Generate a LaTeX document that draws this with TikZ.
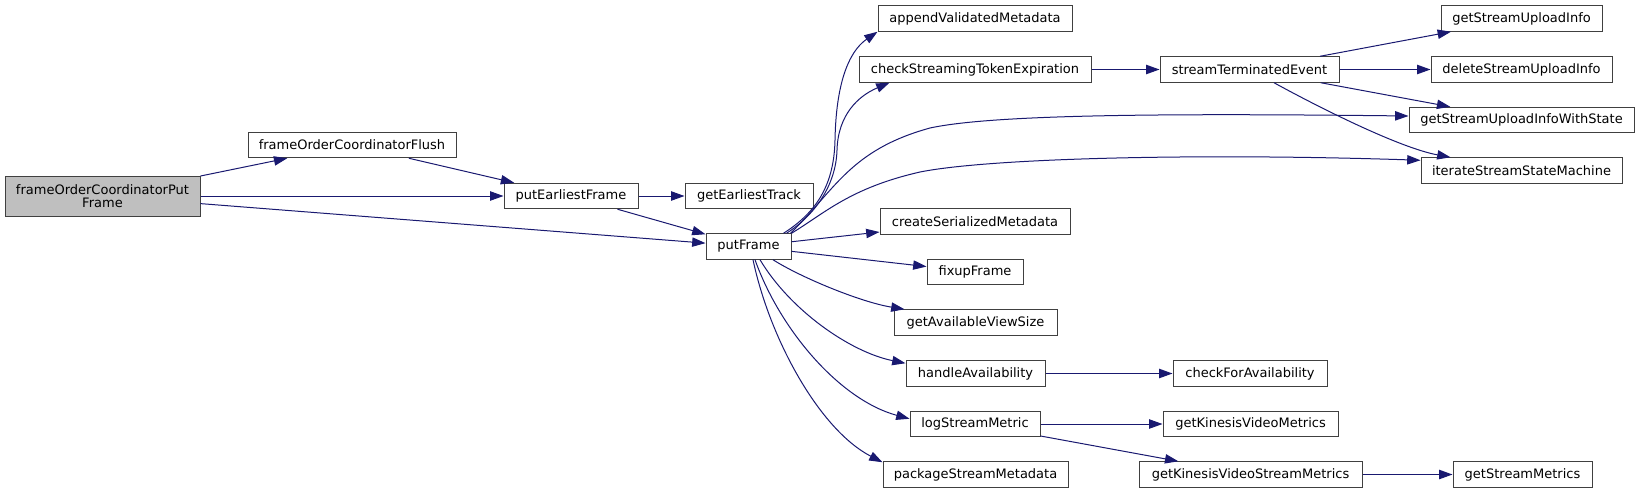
\documentclass[tikz,border=0pt]{standalone}
\usepackage{fontspec}
\setmainfont{DejaVu Sans}
\usetikzlibrary{arrows.meta,calc}
\definecolor{callblue}{HTML}{191970}
\definecolor{boxline}{HTML}{404040}
\definecolor{rootfill}{HTML}{BFBFBF}

\begin{document}
\begin{tikzpicture}[x=0.75pt,y=-0.75pt,font=\fontsize{9.75}{10}\selectfont,>={Triangle[length=10pt,width=7pt]},
 fn/.style={draw=boxline,fill=white,line width=0.75pt,minimum height=19.1pt,inner sep=0pt,align=center},
 root/.style={fn,fill=rootfill,minimum height=30pt},
 wd/.style={minimum width=#1*0.75pt},
 call/.style={->,draw=callblue,fill=none,line width=0.75pt,arrows={->[fill=callblue]}}]
\useasboundingbox (0,0) rectangle (1640,493);
\node[root,wd=195] (root) at (102.5,196) {frameOrderCoordinatorPut\\Frame};
\node[fn,wd=208] (flush) at (352,145) {frameOrderCoordinatorFlush};
\node[fn,wd=134] (pef) at (571,196) {putEarliestFrame};
\node[fn,wd=128] (get) at (749,196) {getEarliestTrack};
\node[fn,wd=85] (pf) at (748.5,246.5) {putFrame};
\node[fn,wd=194] (append) at (975,18.5) {appendValidatedMetadata};
\node[fn,wd=232] (check) at (975,69.5) {checkStreamingTokenExpiration};
\node[fn,wd=190] (create) at (975,221.5) {createSerializedMetadata};
\node[fn,wd=96] (fixup) at (975,272) {fixupFrame};
\node[fn,wd=163] (gavs) at (975.5,322.5) {getAvailableViewSize};
\node[fn,wd=139] (handle) at (975.5,373.5) {handleAvailability};
\node[fn,wd=130] (logsm) at (975,424) {logStreamMetric};
\node[fn,wd=185] (pkg) at (975.5,474.5) {packageStreamMetadata};
\node[fn,wd=179] (st) at (1249.5,69.5) {streamTerminatedEvent};
\node[fn,wd=154] (cfa) at (1250,373.5) {checkForAvailability};
\node[fn,wd=175] (gkvm) at (1250.5,424) {getKinesisVideoMetrics};
\node[fn,wd=223] (gkvsm) at (1250.5,474.5) {getKinesisVideoStreamMetrics};
\node[fn,wd=161] (gsui) at (1521.5,18.5) {getStreamUploadInfo};
\node[fn,wd=181] (dsui) at (1521.5,69.5) {deleteStreamUploadInfo};
\node[fn,wd=225] (ws) at (1521.5,120) {getStreamUploadInfoWithState};
\node[fn,wd=201] (iter) at (1521.5,170.5) {iterateStreamStateMachine};
\node[fn,wd=139] (gsm) at (1522.5,474.5) {getStreamMetrics};
\draw[call] (root) -- (flush);
\draw[call] (root) -- (pef);
\draw[call] (root) -- (pf);
\draw[call] (flush) -- (pef);
\draw[call] (pef) -- (get);
\draw[call] (pef) -- (pf);
\draw[call] ($(pf.north east)+(-8,0)$) .. controls (812,215) and (834,190) .. (835,140) .. controls (836,85) and (848,52) .. (append.south west);
\draw[call] ($(pf.north east)+(-5,0)$) .. controls (815,215) and (836,185) .. (837,150) .. controls (838,115) and (858,96) .. ($(check.south west)+(31,0)$);
\draw[call] ($(pf.north east)+(-1,0)$) .. controls (835,190) and (850,150) .. (930,128) .. controls (990,115) and (1150,113) .. ($(ws.west)+(0,-4)$);
\draw[call] (pf.north east) .. controls (825,213) and (850,188) .. (920,172) .. controls (990,158) and (1200,153) .. ($(iter.north west)+(0,3)$);
\draw[call] (pf) -- (create);
\draw[call] (pf) -- (fixup);
\draw[call] ($(pf.south)+(24.5,0)$) .. controls (800,277) and (860,302) .. ($(gavs.north west)+(11,0)$);
\draw[call] ($(pf.south)+(11.5,0)$) .. controls (790,310) and (850,352) .. ($(handle.north west)+(0,3)$);
\draw[call] ($(pf.south)+(6.5,0)$) .. controls (780,330) and (840,400) .. ($(logsm.north west)+(0,8)$);
\draw[call] ($(pf.south)+(4.5,0)$) .. controls (770,340) and (820,430) .. ($(pkg.north west)+(0,1)$);
\draw[call] (check) -- (st);
\draw[call] (st) -- (gsui);
\draw[call] (st) -- (dsui);
\draw[call] (st) -- (ws);
\draw[call] ($(st.south)+(24.5,0)$) .. controls (1320,108) and (1400,148) .. ($(iter.north west)+(30,0)$);
\draw[call] (handle) -- (cfa);
\draw[call] (logsm) -- (gkvm);
\draw[call] (logsm) -- (gkvsm);
\draw[call] (gkvsm) -- (gsm);
\end{tikzpicture}
\end{document}
